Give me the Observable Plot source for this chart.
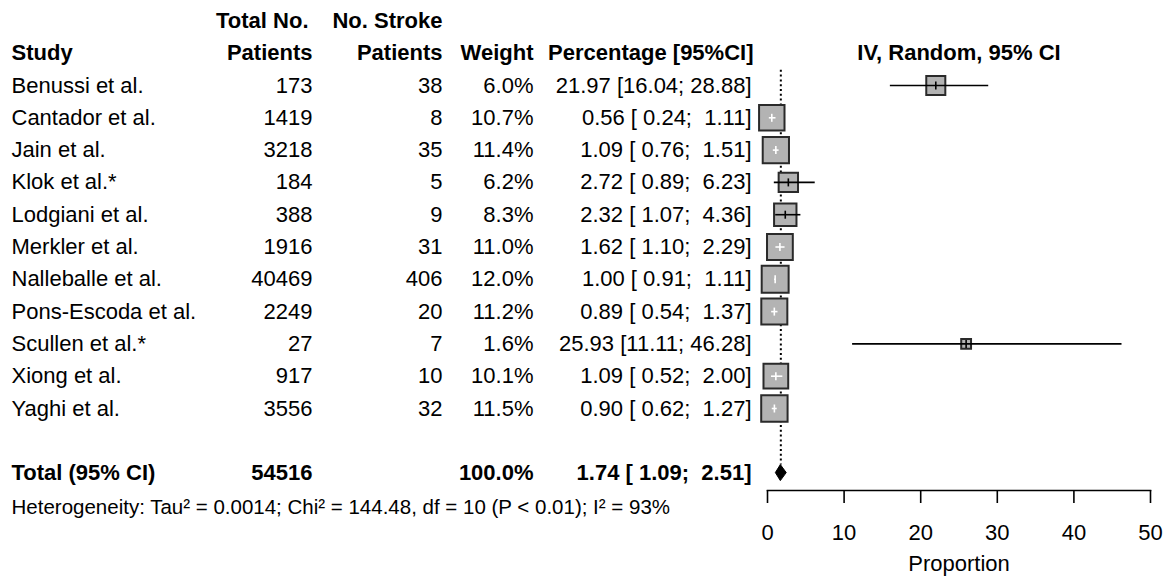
<!DOCTYPE html>
<html>
<head>
<meta charset="utf-8">
<script src="https://cdn.jsdelivr.net/npm/d3@7"></script>
<script src="https://cdn.jsdelivr.net/npm/@observablehq/plot@0.6"></script>
<style>
  html, body { margin: 0; padding: 0; background: #fff; }
  #chart svg { display: block; }
</style>
</head>
<body>
<div id="chart"></div>
<script>
// ---- data ----
const studies = ["Benussi et al.", "Cantador et al.", "Jain et al.", "Klok et al.*", "Lodgiani et al.",
  "Merkler et al.", "Nalleballe et al.", "Pons-Escoda et al.", "Scullen et al.*", "Xiong et al.", "Yaghi et al."];
const totalPatients = [173, 1419, 3218, 184, 388, 1916, 40469, 2249, 27, 917, 3556];
const strokePatients = [38, 8, 35, 5, 9, 31, 406, 20, 7, 10, 32];
const weights = [6.0, 10.7, 11.4, 6.2, 8.3, 11.0, 12.0, 11.2, 1.6, 10.1, 11.5];
const estimates = [21.97, 0.56, 1.09, 2.72, 2.32, 1.62, 1.00, 0.89, 25.93, 1.09, 0.90];
const lowers = [16.04, 0.24, 0.76, 0.89, 1.07, 1.10, 0.91, 0.54, 11.11, 0.52, 0.62];
const uppers = [28.88, 1.11, 1.51, 6.23, 4.36, 2.29, 1.11, 1.37, 46.28, 2.00, 1.27];

const totalLabel = "Total (95% CI)";
const totalN = 54516;
const totalWeight = 100.0;
const totalEst = 1.74, totalLower = 1.09, totalUpper = 2.51;

const headerLine1 = ["", "Total No.", "No. Stroke", "", ""];
const headerLine2 = ["Study", "Patients", "Patients", "Weight", "Percentage [95%CI]"];
const plotTitle = "IV, Random, 95% CI";
const xLabel = "Proportion";
const xTicks = [0, 10, 20, 30, 40, 50];
const heterogeneity = "Heterogeneity: Tau\u00B2 = 0.0014; Chi\u00B2 = 144.48, df = 10 (P < 0.01); I\u00B2 = 93%";

// ---- layout ----
const W = 1168, H = 576;
const mL = 767, mR = 18, mB = 86;
const colX = [11, 312, 442, 533, 751];
const colAnchor = ["start", "end", "end", "end", "end"];
const FS = 22;

const xOpts = {domain: [0, 50], range: [mL, W - mR]};
const rOpts = {type: "sqrt", domain: [0, 12], range: [0, 15.2]};
const xs = Plot.scale({x: xOpts});
const rs = Plot.scale({r: rOpts});

const pad5 = v => v.toFixed(2).padStart(5, " ");
const ciText = (e, l, u) => `${e.toFixed(2)} [${pad5(l)}; ${pad5(u)}]`;

const rows = studies.map((s, i) => {
  const half = 1.7725 * rs.apply(weights[i]) / 2;
  const cx = xs.apply(estimates[i]);
  const inside = xs.apply(lowers[i]) >= cx - half && xs.apply(uppers[i]) <= cx + half;
  return {
    row: i, study: s, n: totalPatients[i], ev: strokePatients[i], w: weights[i],
    est: estimates[i], lo: lowers[i], hi: uppers[i], inside,
    cols: [s, String(totalPatients[i]), String(strokePatients[i]), weights[i].toFixed(1) + "%", ciText(estimates[i], lowers[i], uppers[i])]
  };
});
const totalRow = studies.length + 1;
const totalCols = [totalLabel, String(totalN), "", totalWeight.toFixed(1) + "%", ciText(totalEst, totalLower, totalUpper)];

const tickSymbol = {draw(ctx) { ctx.moveTo(0, -4); ctx.lineTo(0, 4); }};

const marks = [];
// header lines
for (let c = 0; c < 5; c++) {
  const hx = c === 4 ? colX[c] + 2 : colX[c];
  marks.push(Plot.text([headerLine1[c]], {y: () => -2, text: d => d, frameAnchor: "left", dx: (c === 1 ? hx - 4 : hx) - mL, textAnchor: colAnchor[c], fontWeight: "bold", fontSize: FS}));
  marks.push(Plot.text([headerLine2[c]], {y: () => -1, text: d => d, frameAnchor: "left", dx: hx - mL, textAnchor: colAnchor[c], fontWeight: "bold", fontSize: FS}));
  marks.push(Plot.text(rows, {y: "row", text: d => d.cols[c], frameAnchor: "left", dx: colX[c] - mL, textAnchor: colAnchor[c], fontSize: FS}));
  marks.push(Plot.text([totalCols[c]], {y: () => totalRow, text: d => d, frameAnchor: "left", dx: colX[c] - mL, textAnchor: colAnchor[c], fontWeight: "bold", fontSize: FS}));
}
marks.push(Plot.text([plotTitle], {y: () => -1, text: d => d, frameAnchor: "top", lineAnchor: "middle", fontWeight: "bold", fontSize: FS}));
marks.push(Plot.text([heterogeneity], {y: () => totalRow + 1, text: d => d, frameAnchor: "left", dx: colX[0] - mL, dy: 2, textAnchor: "start", fontSize: 20.5}));

// reference line
marks.push(Plot.ruleX([totalEst], {x: d => d, y1: () => -0.47, y2: () => totalRow - 0.25, stroke: "#000", strokeWidth: 2, strokeDasharray: "2,2.8"}));
// boxes
marks.push(Plot.dot(rows, {x: "est", y: "row", r: "w", symbol: "square", fill: "#b3b3b3", stroke: "#2a2a2a", strokeWidth: 2}));
// CI lines
marks.push(Plot.ruleY(rows.filter(d => !d.inside), {y: "row", x1: "lo", x2: "hi", stroke: "#000", strokeWidth: 1.6}));
marks.push(Plot.ruleY(rows.filter(d => d.inside), {y: "row", x1: "lo", x2: "hi", stroke: "#fff", strokeWidth: 1.6}));
marks.push(Plot.dot(rows.filter(d => !d.inside), {x: "est", y: "row", symbol: tickSymbol, r: 4, fill: "none", stroke: "#000", strokeWidth: 1.6}));
marks.push(Plot.dot(rows.filter(d => d.inside), {x: "est", y: "row", symbol: tickSymbol, r: 4, fill: "none", stroke: "#fff", strokeWidth: 1.6}));
// diamond
marks.push((index, scales) => {
  const yc = scales.y(totalRow), h = 8;
  const pts = [[scales.x(totalLower), yc], [scales.x(totalEst), yc - h], [scales.x(totalUpper), yc], [scales.x(totalEst), yc + h]];
  const g = d3.create("svg:polygon")
    .attr("points", pts.map(p => p.join(",")).join(" "))
    .attr("fill", "#000").attr("stroke", "#000").attr("stroke-width", 1);
  return g.node();
});
// axis
marks.push(Plot.frame({anchor: "bottom", strokeWidth: 1.6}));
marks.push(Plot.axisX({ticks: xTicks, tickSize: 13, tickPadding: 21, fontSize: FS, strokeWidth: 1.6, label: null}));
marks.push(Plot.text([xLabel], {text: d => d, frameAnchor: "bottom", lineAnchor: "middle", dy: 73, fontSize: FS}));

const chart = Plot.plot({
  width: W, height: H,
  marginLeft: mL, marginRight: mR, marginTop: 0, marginBottom: mB,
  style: {fontFamily: "'Liberation Sans', Arial, sans-serif", fontSize: FS + "px", whiteSpace: "pre", color: "#000", background: "#fff"},
  x: {...xOpts, ticks: xTicks},
  y: {domain: [-2, 12], range: [20.4, 472.6], axis: null},
  r: rOpts,
  marks
});
document.getElementById("chart").appendChild(chart);
</script>
</body>
</html>
